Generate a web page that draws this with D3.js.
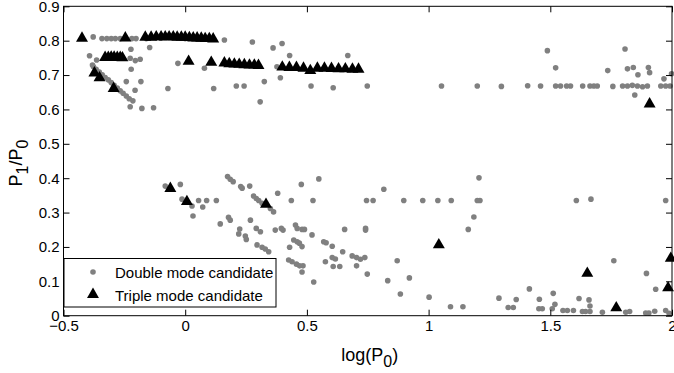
<!DOCTYPE html>
<html>
<head>
<meta charset="utf-8">
<script src="https://cdn.jsdelivr.net/npm/d3@7"></script>
<style>
  html, body { margin: 0; padding: 0; background: #fff; }
  svg { display: block; }
  text { font-family: "Liberation Sans", Arial, Helvetica, sans-serif; fill: #000; }
</style>
</head>
<body>
<svg id="chart" width="674" height="373"></svg>
<script>
// ---------- data ----------
const xTicks = [-0.5, 0, 0.5, 1, 1.5, 2];
const xTickLabels = ["\u22120.5", "0", "0.5", "1", "1.5", "2"];
const yTicks = [0, 0.1, 0.2, 0.3, 0.4, 0.5, 0.6, 0.7, 0.8, 0.9];
const yTickLabels = ["0", "0.1", "0.2", "0.3", "0.4", "0.5", "0.6", "0.7", "0.8", "0.9"];
const seriesNames = ["Double mode candidate", "Triple mode candidate"];

// Double mode candidates [log(P0), P1/P0]
const doubleMode = [
  [-0.378,0.811],[-0.342,0.806],[-0.322,0.806],[-0.304,0.806],[-0.287,0.806],[-0.267,0.806],
  [-0.219,0.806],[-0.202,0.806],[-0.160,0.806],[-0.100,0.807],[0.000,0.806],[0.100,0.804],[0.161,0.802],
  [-0.393,0.756],[-0.364,0.744],[-0.381,0.729],
  [-0.377,0.724],[-0.366,0.717],[-0.353,0.709],[-0.341,0.701],[-0.329,0.693],[-0.316,0.686],
  [-0.304,0.678],[-0.292,0.670],[-0.279,0.662],[-0.267,0.654],[-0.255,0.647],[-0.242,0.639],
  [-0.230,0.631],[-0.215,0.625],
  [-0.223,0.775],[-0.226,0.749],[-0.205,0.742],[-0.185,0.746],[-0.222,0.717],[-0.242,0.681],
  [-0.182,0.681],[-0.206,0.656],[-0.226,0.608],[-0.178,0.603],[-0.130,0.605],[-0.146,0.780],
  [-0.071,0.661],[-0.030,0.734],[0.079,0.720],[0.117,0.661],
  [0.276,0.796],[0.361,0.779],[0.398,0.792],[0.429,0.757],[0.377,0.724],[0.391,0.692],
  [0.325,0.681],[0.210,0.668],[0.242,0.668],[0.308,0.622],[0.517,0.668],[0.608,0.663],
  [0.668,0.757],[0.748,0.668],
  [1.053,0.668],[1.200,0.668],[1.299,0.667],[1.407,0.669],[1.460,0.668],[1.488,0.771],
  [1.522,0.721],[1.522,0.668],[1.542,0.668],[1.567,0.668],[1.583,0.668],[1.633,0.668],
  [1.663,0.668],[1.679,0.668],[1.693,0.668],[1.736,0.713],[1.757,0.667],[1.797,0.668],
  [1.817,0.668],[1.837,0.670],[1.858,0.668],[1.879,0.666],[1.899,0.668],[1.807,0.776],
  [1.817,0.718],[1.841,0.722],[1.860,0.701],[1.847,0.642],[1.903,0.722],[1.908,0.707],
  [1.954,0.668],[1.974,0.668],[1.992,0.668],[1.967,0.689],[1.998,0.704],
  [-0.082,0.377],[-0.020,0.382],[-0.013,0.339],[0.028,0.319],[0.032,0.290],[0.055,0.335],
  [0.072,0.316],[0.088,0.335],[0.128,0.335],[0.144,0.267],[0.174,0.405],[0.185,0.397],
  [0.197,0.390],[0.228,0.376],[0.234,0.371],[0.265,0.377],[0.281,0.348],[0.292,0.341],
  [0.302,0.335],[0.316,0.327],[0.350,0.312],[0.363,0.302],[0.380,0.356],[0.436,0.335],
  [0.178,0.286],[0.185,0.278],[0.224,0.252],[0.220,0.238],[0.247,0.232],[0.251,0.222],
  [0.268,0.278],[0.292,0.254],[0.309,0.244],[0.295,0.206],[0.316,0.199],[0.329,0.194],
  [0.343,0.186],[0.370,0.249],[0.395,0.254],[0.402,0.249],[0.453,0.264],[0.460,0.254],
  [0.446,0.220],[0.460,0.215],[0.429,0.199],[0.469,0.211],[0.480,0.201],[0.480,0.251],
  [0.490,0.251],[0.425,0.162],[0.439,0.157],[0.457,0.150],[0.470,0.145],[0.484,0.145],
  [0.480,0.127],[0.477,0.382],[0.525,0.335],[0.521,0.235],[0.549,0.398],[0.569,0.215],
  [0.579,0.212],[0.604,0.202],[0.576,0.157],[0.604,0.169],[0.617,0.165],[0.608,0.143],
  [0.635,0.143],[0.528,0.098],[0.647,0.186],[0.655,0.251],[0.686,0.174],[0.704,0.169],
  [0.720,0.164],[0.738,0.169],[0.704,0.145],[0.741,0.254],[0.741,0.249],[0.745,0.335],
  [0.772,0.335],[0.748,0.121],[0.816,0.368],[0.871,0.160],[0.832,0.102],[0.921,0.110],
  [0.884,0.063],[0.898,0.335],[0.976,0.335],[1.002,0.054],[1.038,0.335],[1.093,0.335],
  [1.090,0.026],[1.141,0.026],[1.163,0.251],[1.186,0.287],[1.200,0.335],[1.211,0.335],
  [1.207,0.401],
  [1.289,0.051],[1.327,0.024],[1.348,0.024],[1.360,0.047],[1.414,0.078],[1.455,0.048],
  [1.453,0.020],[1.467,0.020],[1.512,0.065],[1.519,0.033],[1.508,0.020],[1.552,0.015],
  [1.570,0.015],[1.595,0.015],[1.618,0.050],[1.632,0.012],[1.645,0.012],[1.663,0.012],
  [1.659,0.046],[1.663,0.028],[1.607,0.335],[1.667,0.339],[1.714,0.010],[1.761,0.160],
  [1.810,0.010],[1.826,0.012],[1.895,0.123],[1.892,0.008],[1.905,0.008],[1.929,0.013],
  [1.933,0.077],[1.974,0.335],[1.974,0.015],[1.988,0.007]
];

// Triple mode candidates [log(P0), P1/P0]
const tripleMode = [
  [-0.424,0.807],[-0.246,0.808],
  [-0.164,0.810],[-0.140,0.810],[-0.119,0.811],[-0.099,0.811],[-0.082,0.811],[-0.066,0.811],
  [-0.049,0.811],[-0.033,0.810],[-0.016,0.810],[0.000,0.810],[0.017,0.809],[0.033,0.808],
  [0.049,0.808],[0.066,0.807],[0.082,0.806],[0.099,0.806],[0.115,0.805],
  [-0.329,0.751],[-0.316,0.751],[-0.304,0.752],[-0.292,0.752],[-0.279,0.751],[-0.267,0.751],[-0.258,0.750],
  [-0.373,0.706],[-0.352,0.692],[-0.294,0.661],
  [0.014,0.740],[0.107,0.737],
  [0.161,0.735],[0.181,0.733],[0.202,0.732],[0.222,0.731],[0.243,0.730],[0.264,0.729],
  [0.284,0.729],[0.301,0.728],
  [0.399,0.723],[0.428,0.722],[0.457,0.722],[0.486,0.720],[0.514,0.713],[0.543,0.720],
  [0.572,0.720],[0.601,0.719],[0.630,0.718],[0.658,0.718],[0.687,0.717],[0.712,0.717],
  [-0.061,0.370],[0.007,0.332],[0.332,0.324],[1.042,0.206],[1.652,0.123],[1.771,0.023],
  [1.995,0.167],[1.984,0.081],[1.908,0.616]
];

// ---------- drawing ----------
const svg = d3.select("#chart");
const x = d3.scaleLinear().domain([-0.5, 2]).range([63.5, 672]);
const y = d3.scaleLinear().domain([0, 0.9]).range([315.7, 6.3]);
const [x0, x1] = x.range();
const [yb, yt] = y.range();

const grey = "#808080";

// points
const plot = svg.append("g");
plot.selectAll("circle.dbl").data(doubleMode).join("circle")
  .attr("class", "dbl")
  .attr("cx", d => x(d[0])).attr("cy", d => y(d[1]))
  .attr("r", 2.8).attr("fill", grey);

const tri = d3.symbol().type(d3.symbolTriangle).size(62);
plot.selectAll("path.tri").data(tripleMode).join("path")
  .attr("class", "tri")
  .attr("transform", d => `translate(${x(d[0])},${y(d[1])})`)
  .attr("d", tri).attr("fill", "#000");

// axes (inward ticks, box)
const fmtX = (d) => xTickLabels[xTicks.indexOf(d)];
const fmtY = (d) => yTickLabels[yTicks.indexOf(d)];

const axB = svg.append("g").attr("transform", `translate(0,${yb})`)
  .call(d3.axisBottom(x).tickValues(xTicks).tickFormat(fmtX).tickSizeInner(-6).tickSizeOuter(0).tickPadding(5));
const axT = svg.append("g").attr("transform", `translate(0,${yt})`)
  .call(d3.axisTop(x).tickValues(xTicks).tickFormat("").tickSizeInner(-6).tickSizeOuter(0));
const axL = svg.append("g").attr("transform", `translate(${x0},0)`)
  .call(d3.axisLeft(y).tickValues(yTicks).tickFormat(fmtY).tickSizeInner(-6).tickSizeOuter(0).tickPadding(4));
const axR = svg.append("g").attr("transform", `translate(${x1},0)`)
  .call(d3.axisRight(y).tickValues(yTicks).tickFormat("").tickSizeInner(-6).tickSizeOuter(0));

[axB, axT, axL, axR].forEach(g => {
  g.select(".domain").remove();
  g.selectAll(".tick line").attr("stroke", "#000").attr("stroke-width", 1);
  g.selectAll("text").attr("font-size", 15).attr("fill", "#000")
    .style("font-family", '"Liberation Sans", Arial, sans-serif');
});

svg.append("rect").attr("x", x0).attr("y", yt).attr("width", x1 - x0).attr("height", yb - yt)
  .attr("fill", "none").attr("stroke", "#000").attr("stroke-width", 1);

// axis labels
const xl = svg.append("text").attr("x", (x0 + x1) / 2 + 2).attr("y", 361)
  .attr("text-anchor", "middle").attr("font-size", 18);
xl.append("tspan").text("log(P");
xl.append("tspan").attr("dy", 6).attr("font-size", 16).text("0");
xl.append("tspan").attr("dy", -6).text(")");

const yl = svg.append("text")
  .attr("transform", `translate(22,${(yt + yb) / 2 + 2}) rotate(-90)`)
  .attr("text-anchor", "middle").attr("font-size", 18);
yl.append("tspan").text("P");
yl.append("tspan").attr("dy", 6).attr("font-size", 16).text("1");
yl.append("tspan").attr("dy", -6).text("/P");
yl.append("tspan").attr("dy", 6).attr("font-size", 16).text("0");

// legend
const lg = svg.append("g");
lg.append("rect").attr("x", 64).attr("y", 258.5).attr("width", 212).attr("height", 48.5)
  .attr("fill", "#fff").attr("stroke", "#000").attr("stroke-width", 1);
lg.append("circle").attr("cx", 93).attr("cy", 272).attr("r", 2.8).attr("fill", grey);
lg.append("path").attr("transform", "translate(93,294.5)").attr("d", tri).attr("fill", "#000");
lg.append("text").attr("x", 115).attr("y", 277.5).attr("font-size", 15).text(seriesNames[0]);
lg.append("text").attr("x", 115).attr("y", 300.5).attr("font-size", 15).text(seriesNames[1]);
</script>
</body>
</html>
